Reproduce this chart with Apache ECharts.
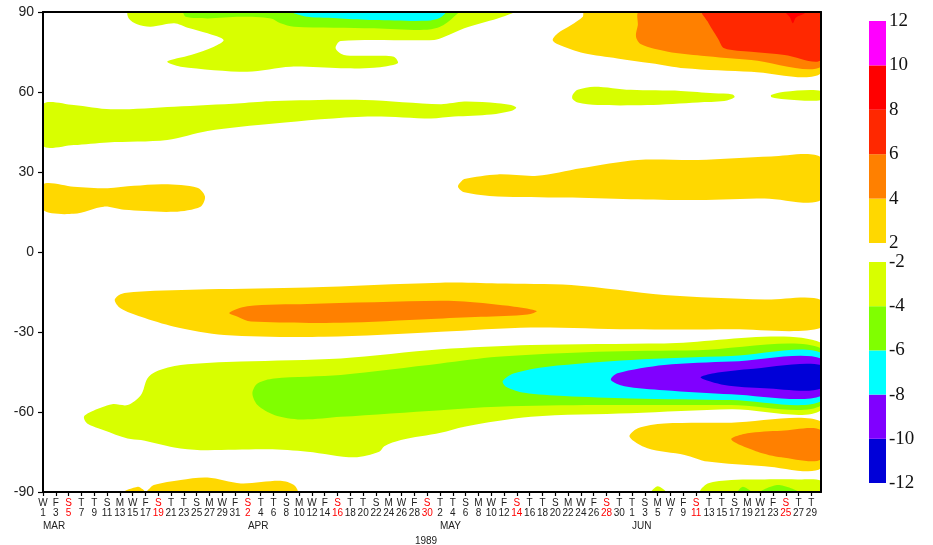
<!DOCTYPE html>
<html><head><meta charset="utf-8">
<script src="https://cdn.jsdelivr.net/npm/echarts/dist/echarts.min.js"></script>
<style>html,body{margin:0;padding:0;background:#fff}#c{width:933px;height:545px}</style>
</head><body><div id="c"></div>
<script>
// ---- Axis / label data ----
const startDate = [1989, 2, 1];           // 1 March 1989 (day 0)
const dayLetters = ['S','M','T','W','T','F','S'];
const monthNames = ['JAN','FEB','MAR','APR','MAY','JUN','JUL'];
const tickDays = []; for (let d = 0; d <= 120; d += 2) tickDays.push(d);
const monthLabelDays = [0, 32, 62, 92];
const yearLabel = '1989';
const latTicks = [-90, -60, -30, 0, 30, 60, 90];

// ---- Contour levels ----
const bandLo     = [-12, -10, -8, -6, -4, 2, 4, 6, 8, 10];
const bandColors = ['#0000d8','#8000ff','#00ffff','#80ff00','#d8ff00','#ffd800','#ff8000','#ff2800','#ff0000','#ff00ff'];
const posBands = [2, 4, 6, 8, 10];
const negBands = [-12, -10, -8, -6, -4];

// ---- Contour regions [day since 1 Mar, latitude] ----
const nhPolarYG = [[13.3,90],[13.4,87.6],[14.7,85.4],[16.8,84.5],[20.5,85.8],[22.6,84.1],[25.7,82],[28.2,79.5],[26.7,77],[23.1,73.9],[19.4,71.4],[21.5,69.5],[31.9,67.6],[38.7,69.5],[46.5,68.9],[51.7,69.1],[55.4,70.8],[54.8,73.2],[51.7,73.6],[47,73.9],[45.7,76.4],[46.5,79.1],[61.1,79.5],[62.7,80.7],[65.8,83.9],[71,87.6],[73.3,89.5],[73.5,90]];
const nhPolarGreen = [[22,90],[22.3,88.2],[25.7,87.6],[30.9,88.2],[35.6,87.6],[37.1,85.8],[39.2,84.5],[51.7,83.9],[60,83.3],[62.5,85],[64.8,89.5],[65,90]];
const nhPolarCyan = [[39,90],[41.3,88.2],[46.5,87.6],[51.7,87],[60,86.7],[62,87.8],[62.8,90]];
const nh50YG = [[0,55.4],[4.8,55.1],[10.6,53.5],[20.5,54.5],[30.9,55.8],[36.1,56.6],[50.2,57],[62.1,55.4],[65.8,56.4],[71,55.8],[73.1,55.1],[73.9,54.1],[73.1,52.9],[70,51.6],[64.2,50.8],[60.6,50.1],[50.7,50.8],[36.1,48.2],[25.7,45.4],[19.4,42],[10.1,41.1],[4.8,40.1],[0,39.8]];
const nh20GoldL = [[0,25.4],[4.8,24.5],[10.1,23.9],[14.2,24.8],[18.9,25.4],[24.1,24.1],[25.3,20.8],[24.6,17],[20.5,15.1],[12.7,15.8],[9.5,17],[4.8,14.3],[0,15.8]];
const nh25GoldR = [[64.8,24.5],[65.3,26.4],[65.8,27.4],[71,29.1],[77.2,28.6],[84,31.4],[92.9,34.5],[102.3,34.5],[113.7,35.8],[121.5,35.4],[121.5,19.5],[112.7,20.1],[102.3,19.5],[91.8,19.8],[81.4,20.4],[71,20.8],[65.8,22.4]];
const nh60YG1 = [[82.7,58.9],[83.5,60.8],[86.1,62],[91.8,60.8],[99.6,60.4],[104.8,59.5],[107.7,59.1],[108,58],[106.4,56.6],[102.3,56.1],[94.4,55.1],[86.6,55.1],[83.5,56.1],[82.7,57.4]];
const nh60YG2 = [[113.8,58],[113.7,58.9],[115.8,60.1],[121.5,60.4],[121.5,57],[115.8,57.3]];
const nhPosGold = [[84.5,90],[84.3,88.2],[82.5,85.1],[80.4,82],[79.6,79.5],[80.4,77.9],[84.5,74.5],[89.7,72.6],[95,70.8],[100.2,68.9],[110.6,67.6],[121.5,67],[121.5,90]];
const nhPosOrange = [[93.1,90],[92.9,85.1],[92.6,80.8],[93.4,77.9],[97.6,75.1],[102.8,73.6],[110.6,72],[121.5,69.5],[121.5,90]];
const nhPosRedOrange = [[103,90],[103.8,86.4],[104.5,83.5],[105.4,80.1],[106.4,76.4],[110.6,75.1],[115.8,73.9],[121.5,72],[121.5,90]];
const nhPosRed = [[116,90],[116.6,88.2],[117.1,85.8],[117.6,87.9],[118.9,89.4],[119,90]];
const sh20Gold = [[11.2,-18],[12.1,-15.8],[14.8,-14.9],[25.7,-14],[41.3,-13.3],[62.1,-11.5],[71,-11.8],[82.5,-12.4],[97,-16.1],[112.7,-17.8],[121.5,-18],[121.5,-28.4],[107.5,-29],[91.8,-29],[76.2,-28.3],[62.1,-29.9],[43.9,-31.8],[28.3,-31.1],[20.5,-28],[15.3,-24.3],[12.1,-21.1]];
const sh20Orange = [[29.1,-22.8],[31.9,-20.3],[41.3,-19.5],[62.1,-18.3],[65.8,-18.6],[73.6,-20.5],[77.1,-22.1],[75.7,-23.4],[68.4,-24.3],[60.6,-25.1],[46.5,-26.5],[32.5,-26.1],[30.4,-24.3]];
const sh50YG = [[6.4,-61.8],[7.5,-59.9],[10.8,-57.1],[13.2,-57.4],[15.3,-53.6],[16.3,-47.4],[17.6,-44.9],[21.5,-42.4],[30.9,-41.1],[46.5,-39.9],[62.1,-36.5],[76.2,-34.9],[97,-34.3],[121.5,-34],[121.5,-59.3],[107.5,-59],[91.8,-60.5],[76.2,-61.8],[65.8,-65.5],[62.1,-67.8],[55.9,-70.5],[53.3,-72.8],[52.5,-74.9],[48.6,-77],[41.3,-74.9],[35.1,-74],[24.6,-74.3],[20.5,-73.3],[15.3,-70.5],[13.2,-69.9],[9.5,-66.8],[6.9,-64.3]];
const sh50Green = [[32.7,-53],[33.5,-49.3],[36.1,-47.4],[46.5,-46.1],[62.1,-41.8],[71,-39.3],[86.6,-37.4],[102.3,-36.8],[121.5,-36.1],[121.5,-57.6],[107.5,-57.4],[86.6,-57.4],[71,-58],[62.1,-59.3],[46.5,-61.8],[40.3,-62.8],[36.1,-61.1],[33.5,-57.4]];
const sh50Cyan = [[71.8,-48.4],[73.6,-45.5],[78.8,-43],[91.8,-40.5],[107.5,-39],[121.5,-37.8],[121.5,-56],[107.5,-55.5],[91.8,-54.9],[81.4,-54],[75.2,-52.8],[72.3,-50.5]];
const sh50Purple = [[88.7,-48],[89.7,-45.5],[97,-42.4],[107.5,-41.1],[121.5,-39.9],[121.5,-54],[107.5,-53.3],[97,-51.8],[90.8,-50.3]];
const sh50Blue = [[102.7,-47.1],[104.8,-45.5],[110,-44],[121.5,-42.4],[121.5,-51.2],[112.7,-51.1],[106.4,-49.9]];
const sh70Gold = [[91.6,-69.3],[92.9,-66.1],[97,-64.3],[107.5,-64],[121.5,-63.6],[121.5,-81.1],[112.7,-80.3],[103.8,-78.6],[100.2,-76.1],[94.4,-73.6]];
const sh70Orange = [[107.5,-70.3],[110,-68],[115.3,-67],[121.5,-66.8],[121.5,-77.8],[115.3,-77],[111.6,-74.9]];
const shPolarGold = [[12.7,-90],[14.8,-88],[15.6,-89],[16,-90],[16.5,-89],[17.3,-87.4],[21.5,-85.5],[25.7,-84.6],[30.9,-86.8],[37.1,-85.8],[39.2,-87.4],[39.7,-90]];
const shPolarYG1 = [[95,-90],[96,-87.8],[97.3,-90]];
const shPolarYG2 = [[102.7,-90],[103.8,-86.8],[107.5,-85.5],[112.7,-85.3],[117.9,-85.3],[121.5,-85.8],[121.5,-90]];
const shPolarGreen1 = [[108.5,-90],[109.3,-88],[110.6,-90]];
const shPolarGreen2 = [[112.1,-90],[114.8,-87.4],[117.9,-90]];

const regions = [
  {lo:-4, pts:nhPolarYG}, {lo:-6, pts:nhPolarGreen}, {lo:-8, pts:nhPolarCyan},
  {lo:-4, pts:nh50YG}, {lo:2, pts:nh20GoldL}, {lo:2, pts:nh25GoldR},
  {lo:-4, pts:nh60YG1}, {lo:-4, pts:nh60YG2},
  {lo:2, pts:nhPosGold}, {lo:4, pts:nhPosOrange}, {lo:6, pts:nhPosRedOrange}, {lo:8, pts:nhPosRed},
  {lo:2, pts:sh20Gold}, {lo:4, pts:sh20Orange},
  {lo:-4, pts:sh50YG}, {lo:-6, pts:sh50Green}, {lo:-8, pts:sh50Cyan}, {lo:-10, pts:sh50Purple}, {lo:-12, pts:sh50Blue},
  {lo:2, pts:sh70Gold}, {lo:4, pts:sh70Orange},
  {lo:2, pts:shPolarGold}, {lo:-4, pts:shPolarYG1}, {lo:-4, pts:shPolarYG2},
  {lo:-6, pts:shPolarGreen1}, {lo:-6, pts:shPolarGreen2}
];

function colorOf(lo){ return bandColors[bandLo.indexOf(lo)]; }
function dateOf(v){ return new Date(Date.UTC(startDate[0], startDate[1], startDate[2] + Math.round(v))); }

const SANS = 'Liberation Sans, Arial, sans-serif';
const SERIF = 'Liberation Serif, Times New Roman, serif';
const XMAX = 121.5;

const chart = echarts.init(document.getElementById('c'), null, {renderer:'canvas'});
const frameLine = {show:true, onZero:false, lineStyle:{color:'#000', width:2}};

chart.setOption({
  animation:false,
  backgroundColor:'#fff',
  grid:[
    {left:43, top:12, right:112, bottom:53, outerBoundsMode:'none', containLabel:false},
    {left:869, top:21, width:17, height:222, outerBoundsMode:'none', containLabel:false},
    {left:869, top:262, width:17, height:221, outerBoundsMode:'none', containLabel:false}
  ],
  xAxis:[
    {gridIndex:0, type:'value', min:0, max:XMAX, position:'bottom', z:10,
     axisLine:frameLine,
     axisTick:{show:true, length:4, customValues:tickDays, lineStyle:{color:'#000', width:1.2}},
     splitLine:{show:false},
     axisLabel:{show:true, margin:6, customValues:tickDays, fontSize:10, fontFamily:SANS, lineHeight:10,
       formatter:function(v){
         const d = dateOf(v); const s = d.getUTCDay()===0 ? 'r' : 'k';
         return '{'+s+'|'+dayLetters[d.getUTCDay()]+'}\n{'+s+'|'+d.getUTCDate()+'}';
       },
       rich:{k:{color:'#222', fontSize:10, lineHeight:10, fontFamily:SANS},
             r:{color:'#ff0000', fontSize:10, lineHeight:10, fontFamily:SANS}}}
    },
    {gridIndex:0, type:'value', min:0, max:XMAX, position:'bottom', z:10,
     axisLine:{show:false, onZero:false}, axisTick:{show:false}, splitLine:{show:false},
     axisLabel:{show:true, margin:29, customValues:monthLabelDays, align:'left', fontSize:10, fontFamily:SANS, color:'#222',
       formatter:function(v){ return monthNames[dateOf(v).getUTCMonth()]; }},
     name:yearLabel, nameLocation:'middle', nameGap:43,
     nameTextStyle:{fontSize:10, fontFamily:SANS, color:'#222', padding:[0,12,0,0]}
    },
    {gridIndex:0, type:'value', min:0, max:XMAX, position:'top', z:10,
     axisLine:frameLine, axisTick:{show:false}, axisLabel:{show:false}, splitLine:{show:false}},
    {gridIndex:1, type:'value', min:0, max:1, show:false},
    {gridIndex:2, type:'value', min:0, max:1, show:false}
  ],
  yAxis:[
    {gridIndex:0, type:'value', min:-90, max:90, position:'left', z:10,
     axisLine:frameLine,
     axisTick:{show:true, length:5, customValues:latTicks, lineStyle:{color:'#000', width:1.2}},
     splitLine:{show:false},
     axisLabel:{customValues:latTicks, margin:9, fontSize:14, fontFamily:SANS, color:'#222'}},
    {gridIndex:0, type:'value', min:-90, max:90, position:'right', z:10,
     axisLine:frameLine, axisTick:{show:false}, axisLabel:{show:false}, splitLine:{show:false}},
    {gridIndex:1, type:'value', min:2, max:12, interval:2, position:'right',
     axisLine:{show:false}, axisTick:{show:false}, splitLine:{show:false},
     axisLabel:{margin:3, fontSize:19, fontFamily:SERIF, color:'#111'}},
    {gridIndex:2, type:'value', min:-12, max:-2, interval:2, position:'right',
     axisLine:{show:false}, axisTick:{show:false}, splitLine:{show:false},
     axisLabel:{margin:3, fontSize:19, fontFamily:SERIF, color:'#111'}}
  ],
  series:[
    {type:'custom', xAxisIndex:0, yAxisIndex:0, clip:true, silent:true,
     data: regions.map(function(r,i){ return [r.pts[0][0], r.pts[0][1], i]; }),
     renderItem:function(params, api){
       const r = regions[params.dataIndex];
       const cs = params.coordSys;
       const pts = r.pts.map(function(p){ return api.coord(p); });
       return {type:'polygon',
         shape:{points:pts, smooth:0.3, smoothConstraint:[[cs.x, cs.y],[cs.x+cs.width, cs.y+cs.height]]},
         style:{fill:colorOf(r.lo), stroke:null}};
     }},
    {type:'custom', xAxisIndex:3, yAxisIndex:2, silent:true,
     data: posBands.map(function(lo){ return [0.5, lo]; }),
     renderItem:function(params, api){
       const lo = api.value(1);
       const a = api.coord([0, lo+2]); const b = api.coord([1, lo]);
       return {type:'rect', shape:{x:a[0], y:a[1], width:b[0]-a[0], height:b[1]-a[1]}, style:{fill:colorOf(lo)}};
     }},
    {type:'custom', xAxisIndex:4, yAxisIndex:3, silent:true,
     data: negBands.map(function(lo){ return [0.5, lo]; }),
     renderItem:function(params, api){
       const lo = api.value(1);
       const a = api.coord([0, lo+2]); const b = api.coord([1, lo]);
       return {type:'rect', shape:{x:a[0], y:a[1], width:b[0]-a[0], height:b[1]-a[1]}, style:{fill:colorOf(lo)}};
     }}
  ]
});
</script></body></html>
